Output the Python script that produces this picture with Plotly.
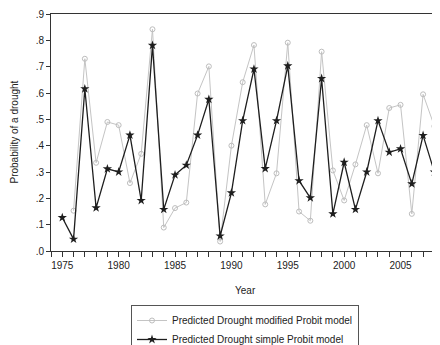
import plotly.graph_objects as go

years = list(range(1975, 2010))
modified_probit = [None, 0.153, 0.730, 0.335, 0.490, 0.478, 0.258, 0.369, 0.842, 0.089,
                   0.163, 0.184, 0.598, 0.701, 0.036, 0.400, 0.641, 0.782, 0.177, 0.295,
                   0.791, 0.150, 0.115, 0.757, 0.306, 0.192, 0.329, 0.478, 0.295, 0.543,
                   0.555, 0.141, 0.595, 0.474, 0.300]
simple_probit = [0.127, 0.045, 0.616, 0.164, 0.312, 0.300, 0.440, 0.192, 0.781, 0.158,
                 0.289, 0.326, 0.440, 0.576, 0.057, 0.221, 0.495, 0.691, 0.313, 0.495,
                 0.703, 0.267, 0.202, 0.655, 0.141, 0.337, 0.158, 0.300, 0.495, 0.375,
                 0.388, 0.255, 0.439, 0.300, 0.116]
y_tick_vals = [0.0, 0.1, 0.2, 0.3, 0.4, 0.5, 0.6, 0.7, 0.8, 0.9]
y_tick_labels = [".0", ".1", ".2", ".3", ".4", ".5", ".6", ".7", ".8", ".9"]
x_tick_vals = [1975, 1980, 1985, 1990, 1995, 2000, 2005]
x_tick_labels = ["1975", "1980", "1985", "1990", "1995", "2000", "2005"]
x_title = "Year"
y_title = "Probability of a drought"

# page body has an 8px default margin: figure is laid out to compensate
W, H = 432, 337
L, T, B = 43, 6, 94
plot_w, plot_h = W - L, H - T - B

fig = go.Figure()
fig.add_trace(go.Scatter(
    x=years, y=modified_probit, mode="lines+markers",
    name="Predicted Drought modified Probit model",
    line=dict(color="#c4c4c4", width=1),
    marker=dict(symbol="circle-open", size=5, color="#bdbdbd", line=dict(width=1)),
    cliponaxis=True,
))
fig.add_trace(go.Scatter(
    x=years, y=simple_probit, mode="lines+markers",
    name="Predicted Drought simple Probit model",
    line=dict(color="#1e1e1e", width=1.3),
    marker=dict(symbol="star", size=7, color="#1e1e1e"),
    cliponaxis=True,
))

fig.update_layout(
    width=W, height=H,
    margin=dict(l=L, r=0, t=T, b=B, autoexpand=False),
    paper_bgcolor="white", plot_bgcolor="white",
    font=dict(family="Liberation Sans, Arial, sans-serif", size=10, color="#222"),
    showlegend=True,
    legend=dict(
        xref="container", yref="container",
        x=123 / W, y=1 - 297 / H, xanchor="left", yanchor="top",
        bordercolor="#555", borderwidth=1, bgcolor="white",
        font=dict(size=10), tracegroupgap=0, itemwidth=30,
    ),
    xaxis=dict(
        range=[1974, 2008.5], showgrid=False, zeroline=False, automargin=False,
        showline=True, linecolor="#333", linewidth=1, mirror=True,
        tickvals=x_tick_vals, ticktext=x_tick_labels,
        ticks="outside", ticklen=5, tickcolor="#333",
        minor=dict(dtick=1, tick0=1974, ticks="outside", ticklen=5, tickcolor="#333"),
        tickfont=dict(size=10),
    ),
    yaxis=dict(
        range=[0, 0.9], showgrid=False, zeroline=False, automargin=False,
        showline=True, linecolor="#333", linewidth=1, mirror=False,
        tickvals=y_tick_vals, ticktext=y_tick_labels,
        ticks="outside", ticklen=4, tickcolor="#333",
        tickfont=dict(size=10),
    ),
    annotations=[
        dict(text=x_title, xref="paper", yref="paper", x=0.5, y=-(282 - (T + plot_h)) / plot_h,
             xanchor="center", yanchor="middle", showarrow=False, font=dict(size=10)),
        dict(text=y_title, xref="paper", yref="paper", x=(6 - L) / plot_w, y=0.5,
             xanchor="center", yanchor="middle", textangle=-90, showarrow=False,
             font=dict(size=10)),
    ],
)

fig.write_html("out.html")
